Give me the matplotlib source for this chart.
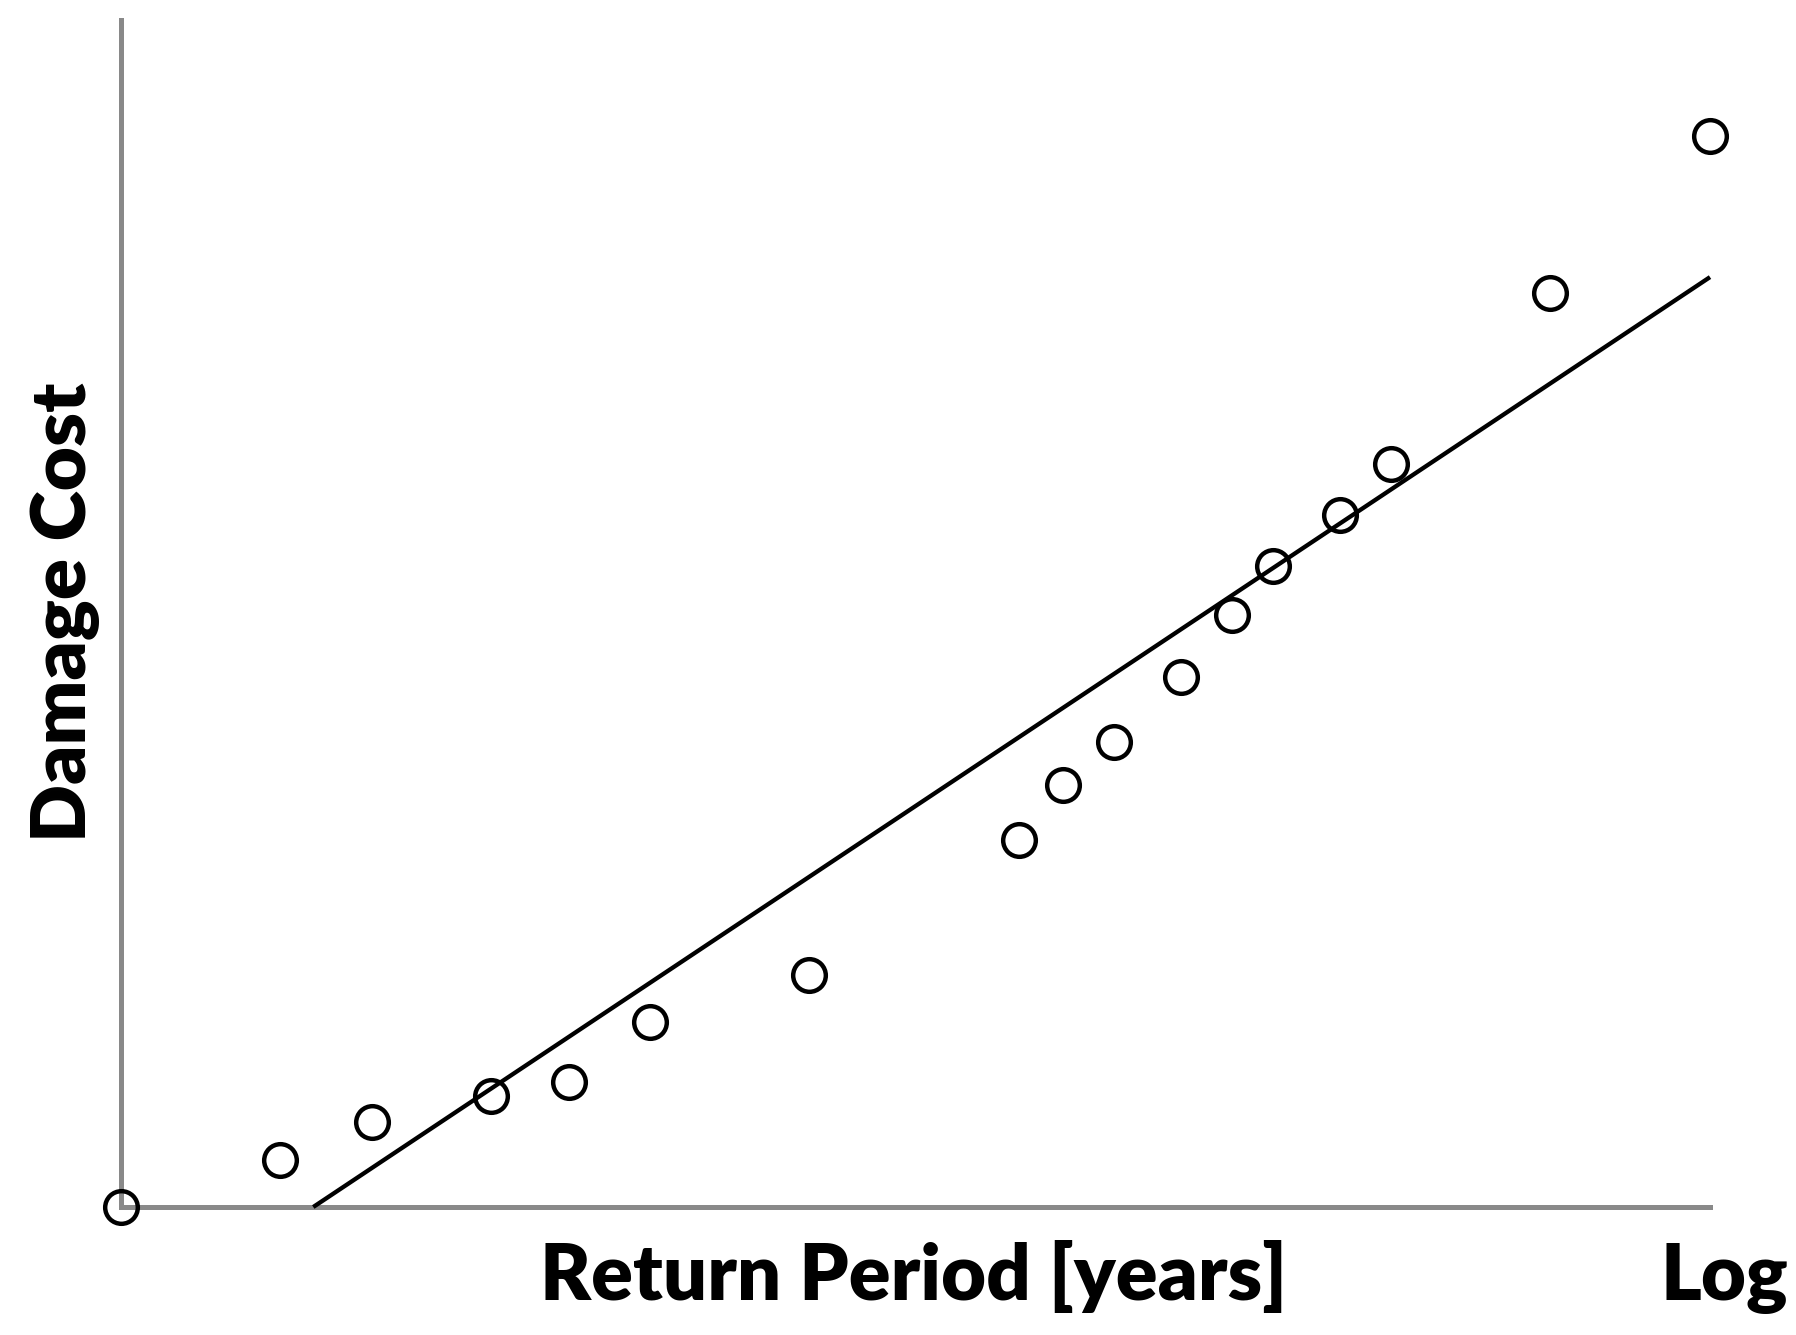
import matplotlib
matplotlib.use("Agg")
import matplotlib.pyplot as plt

return_period = [0, 10.0, 15.8, 23.3, 28.2, 33.3, 43.3, 56.5, 59.3, 62.5,
                 66.7, 69.9, 72.5, 76.7, 79.9, 89.9, 100]
damage_cost = [0, 4.4, 7.9, 10.4, 11.7, 17.3, 21.7, 34.3, 39.4, 43.4,
               49.5, 55.3, 59.8, 64.6, 69.4, 85.3, 100]

# fitted trend line
fit_x = [12.1, 100]
fit_y = [0, 86.8]

x_label = "Return Period [years]"
y_label = "Damage Cost"
corner_label = "Log"

W, H, DPI = 1796, 1335, 100
fig = plt.figure(figsize=(W / DPI, H / DPI), dpi=DPI)
ax = fig.add_axes([121 / W, (H - 1207) / H, (1710 - 121) / W, (1207 - 20) / H])

ax.plot(fit_x, fit_y, color="black", linewidth=3.1, solid_capstyle="butt",
        clip_on=False, zorder=3)
ax.plot(return_period, damage_cost, linestyle="none", marker="o",
        markersize=23.5, markerfacecolor="none", markeredgecolor="black",
        markeredgewidth=3.2, clip_on=False, zorder=4)

ax.set_xlim(0, 100)
ax.set_ylim(0, 110.8)
for side in ["top", "right"]:
    ax.spines[side].set_visible(False)
for side in ["left", "bottom"]:
    ax.spines[side].set_color("#898989")
    ax.spines[side].set_linewidth(3.6)
    ax.spines[side].set_zorder(1)
ax.set_xticks([])
ax.set_yticks([])

font = dict(family="Lato", weight="heavy", color="black")
fig.text(914 / W, (H - 1300) / H, x_label, ha="center", va="baseline", size=56, **font)
fig.text(1661 / W, (H - 1300) / H, corner_label, ha="left", va="baseline", size=56, **font)
fig.text(30 / W, (H - 612) / H, y_label, rotation=90, ha="left", va="center", size=55, **font)

fig.savefig("out.png", dpi=DPI)
